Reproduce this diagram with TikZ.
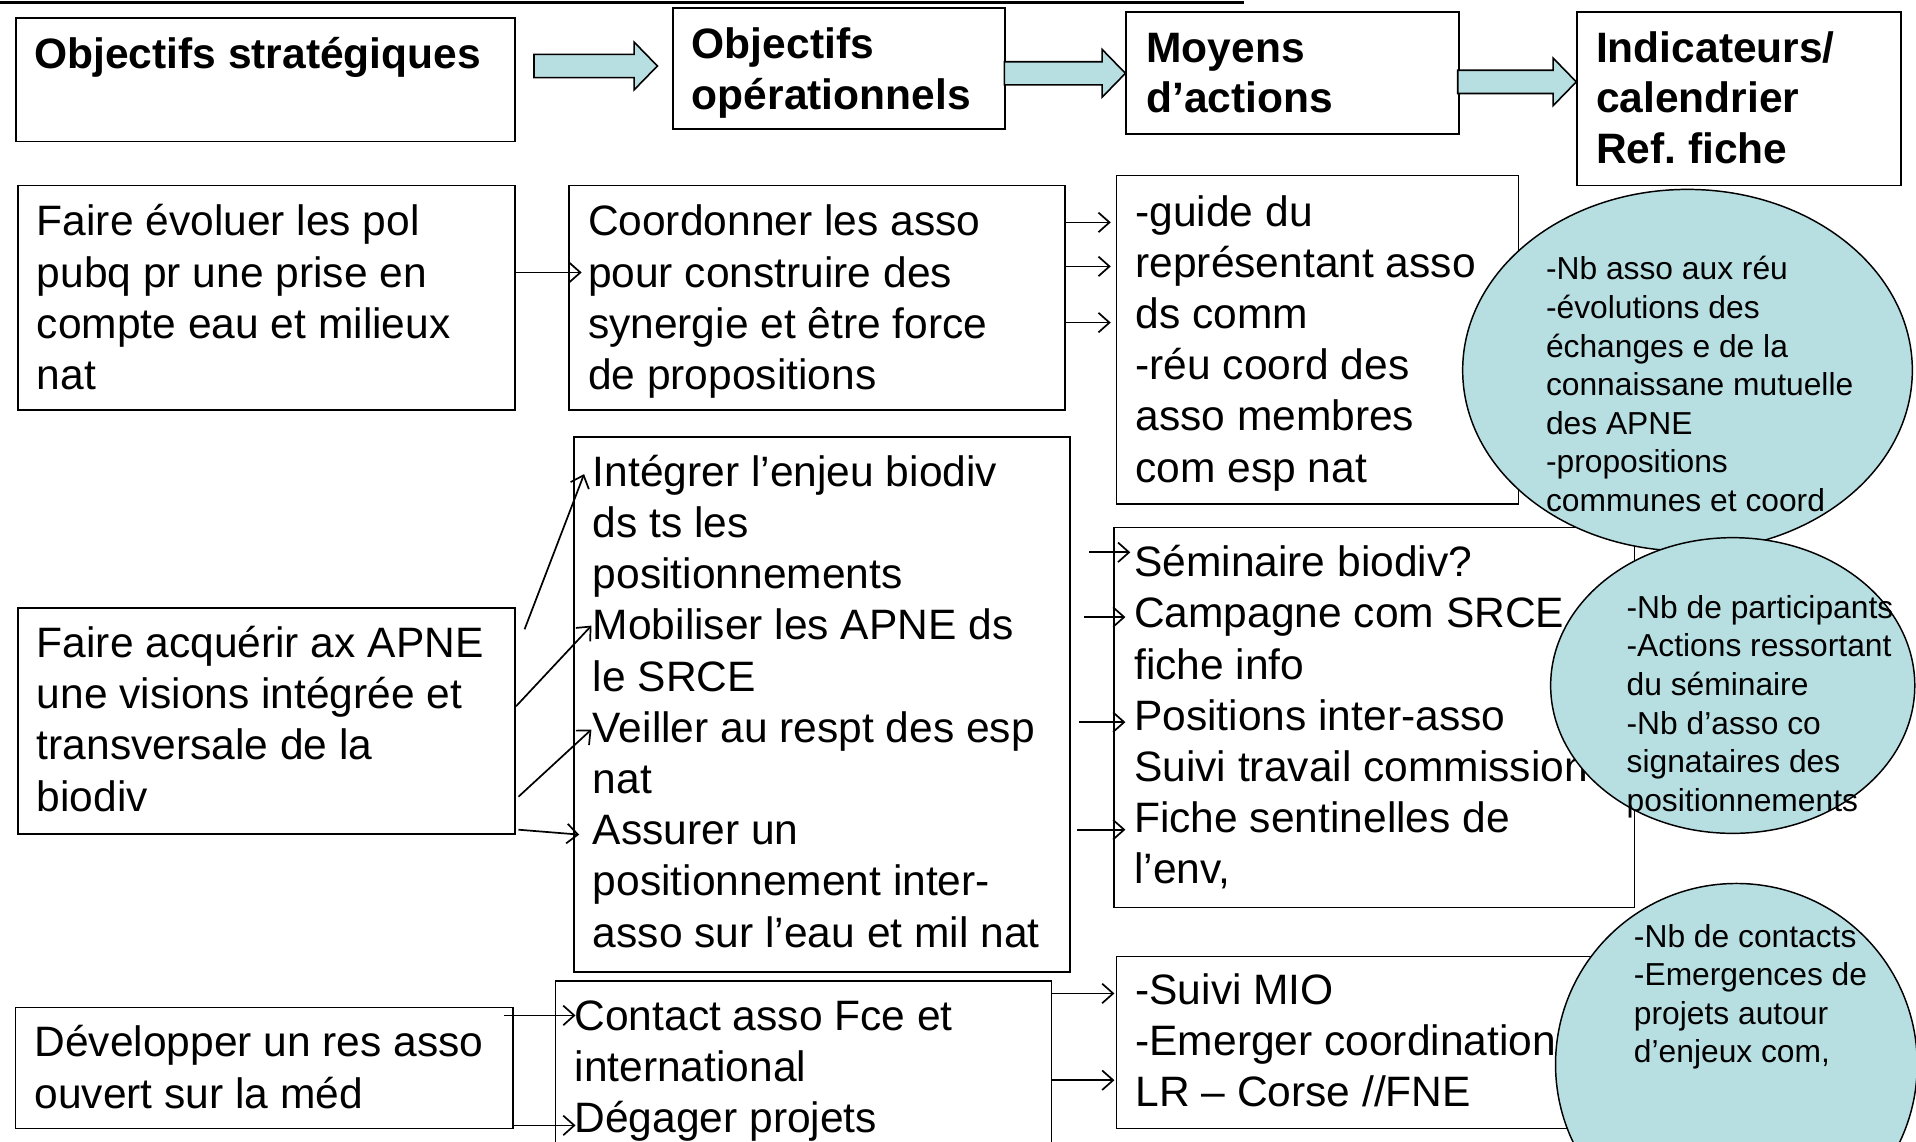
\documentclass[tikz,border=0pt]{standalone}
\usepackage{fontspec}
\setmainfont{Liberation Sans}
\usetikzlibrary{calc,arrows.meta,shapes.geometric}
\definecolor{lblue}{RGB}{183,222,225}
\frenchspacing
\newcommand{\tb}[1]{\begin{tabular}[t]{@{}l@{}}#1\end{tabular}}
\newcommand{\bodyf}{\fontsize{34.8}{41.9}\selectfont}
\newcommand{\headf}{\fontsize{34.8}{41.3}\selectfont\bfseries}
\newcommand{\ellf}{\fontsize{26}{31.6}\selectfont}
\newcommand{\blockarr}[2]{\draw[blk] ($(#1)+(0,-9.5)$) -- ($(#2)+(-19,-9.5)$) -- ($(#2)+(-19,-19.5)$) -- (#2) -- ($(#2)+(-19,19.5)$) -- ($(#2)+(-19,9.5)$) -- ($(#1)+(0,9.5)$) -- cycle;}
\begin{document}
\begin{tikzpicture}[x=1pt,y=-1pt,
  hbox/.style={draw, line width=1.6pt, anchor=north west, inner sep=0pt},
  bbox/.style={draw, line width=1.3pt, anchor=north west, inner sep=0pt},
  ind/.style={ellipse, draw, line width=1.2pt, fill=lblue, inner sep=0pt},
  txt/.style={anchor=base west, inner sep=0pt},
  conn/.style={line width=1.4pt, -{Straight Barb[length=9pt,width=16pt]}},
  blk/.style={draw, line width=1.3pt, fill=lblue, line join=miter}]
\fill[white] (0,0) rectangle (1568,934);
\clip (0,0) rectangle (1568,934);
\draw[line width=3pt] (0,2) -- (1018,2);

% header boxes
\node[hbox, minimum width=409pt, minimum height=101pt] (H1) at (12,14) {};
\node[hbox, minimum width=272pt, minimum height=99pt] (H2) at (550,6) {};
\node[hbox, minimum width=272pt, minimum height=100pt] (H3) at (921,9) {};
\node[hbox, minimum width=265pt, minimum height=142pt] (H4) at (1290,9) {};
\node[txt, font=\headf] (tH1) at (28,56) {\tb{Objectifs stratégiques}};
\node[txt, font=\headf] (tH2) at (566,48) {\tb{Objectifs\\opérationnels}};
\node[txt, font=\headf] (tH3) at (938,51) {\tb{Moyens\\d’actions}};
\node[txt, font=\headf] (tH4) at (1306,51) {\tb{Indicateurs/\\calendrier\\Ref. fiche}};

\coordinate (a1s) at (437,54); \coordinate (a1e) at (538,54);
\coordinate (a2s) at (822,60); \coordinate (a2e) at (921,60);
\coordinate (a3s) at (1193,67); \coordinate (a3e) at (1290,67);
\blockarr{a1s}{a1e}
\blockarr{a2s}{a2e}
\blockarr{a3s}{a3e}

% body boxes
\node[bbox, minimum width=407pt, minimum height=184pt] (B1) at (14,151) {};
\node[bbox, minimum width=406pt, minimum height=184pt] (B2) at (465,151) {};
\node[bbox, minimum width=329pt, minimum height=269pt] (B3) at (913,143) {};
\node[bbox, minimum width=406pt, minimum height=438pt] (B4) at (469,357) {};
\node[bbox, minimum width=426pt, minimum height=311pt] (B5) at (911,431) {};
\node[bbox, minimum width=407pt, minimum height=185pt] (B6) at (14,497) {};
\node[bbox, minimum width=405pt, minimum height=141pt] (B7) at (913,782) {};
\node[bbox, minimum width=407pt, minimum height=99pt] (B8) at (12,824) {};
\node[bbox, minimum width=406pt, minimum height=160pt] (B9) at (454,802) {};

\node[txt, font=\bodyf] (tB1) at (30,193) {\tb{Faire évoluer les pol\\pubq pr une prise en\\compte eau et milieux\\nat}};
\node[txt, font=\bodyf] (tB2) at (481,193) {\tb{Coordonner les asso\\pour construire des\\synergie et être force\\de propositions}};
\node[txt, font=\bodyf] (tB3) at (929,185) {\tb{-guide du\\représentant asso\\ds comm\\-réu coord des\\asso membres\\com esp nat}};
\node[txt, font=\bodyf] (tB4) at (485,398) {\tb{Intégrer l’enjeu biodiv\\ds ts les\\positionnements\\Mobiliser les APNE ds\\le SRCE\\Veiller au respt des esp\\nat\\Assurer un\\positionnement inter-\\asso sur l’eau et mil nat}};
\node[txt, font=\bodyf] (tB5) at (928,472) {\tb{Séminaire biodiv?\\Campagne com SRCE\\fiche info\\Positions inter-asso\\Suivi travail commission\\Fiche sentinelles de\\l’env,}};
\node[txt, font=\bodyf] (tB6) at (30,538) {\tb{Faire acquérir ax APNE\\une visions intégrée et\\transversale de la\\biodiv}};
\node[txt, font=\bodyf] (tB7) at (929,822) {\tb{-Suivi MIO\\-Emerger coordination\\LR – Corse //FNE}};
\node[txt, font=\bodyf] (tB8) at (28,865) {\tb{Développer un res asso\\ouvert sur la méd}};
\node[txt, font=\bodyf] (tB9) at (470,843) {\tb{Contact asso Fce et\\international\\Dégager projets}};

% connectors
\draw[conn] ($(B1.north east)+(0,72)$) -- ($(B2.north west)+(11,72)$);
\draw[conn] ($(B2.north east)+(0,31)$) -- ($(B3.north west)+(-4,39)$);
\draw[conn] ($(B2.north east)+(0,67)$) -- ($(B3.north west)+(-4,75)$);
\draw[conn] ($(B2.north east)+(0,113)$) -- ($(B3.north west)+(-4,121)$);
\draw[conn] ($(B6.north east)+(7,18)$) -- ($(B4.north west)+(9,31)$);
\draw[conn] ($(B6.north east)+(0,81)$) -- ($(B4.north west)+(15,155)$);
\draw[conn] ($(B6.north east)+(2,155)$) -- ($(B4.north west)+(15,240)$);
\draw[conn] ($(B6.north east)+(2,182)$) -- ($(B4.north west)+(5,326)$);
\draw[conn] ($(B4.north east)+(15,95)$) -- ($(B5.north west)+(14,21)$);
\draw[conn] ($(B4.north east)+(11,148)$) -- ($(B5.north west)+(10,74)$);
\draw[conn] ($(B4.north east)+(7,234)$) -- ($(B5.north west)+(10,160)$);
\draw[conn] ($(B4.north east)+(5,322)$) -- ($(B5.north west)+(10,248)$);
\draw[conn] ($(B8.north east)+(-8,7)$) -- ($(B9.north west)+(17,29)$);
\draw[conn] ($(B8.north east)+(-1,97)$) -- ($(B9.north west)+(17,119)$);
\draw[conn] ($(B9.north east)+(0,11)$) -- ($(B7.north west)+(-1,31)$);
\draw[conn] ($(B9.north east)+(0,82)$) -- ($(B7.north west)+(-1,102)$);

% indicator ellipses
\node[ind, minimum width=368pt, minimum height=296pt] (E1) at (1381,303) {};
\node[txt, font=\ellf] (tE1) at (1265,229) {\tb{-Nb asso aux réu\\-évolutions des\\échanges e de la\\connaissane mutuelle\\des APNE\\-propositions\\communes et coord}};
\node[ind, minimum width=298pt, minimum height=242pt] (E2) at (1418,561) {};
\node[txt, font=\ellf] (tE2) at (1331,506) {\tb{-Nb de participants\\-Actions ressortant\\du séminaire\\-Nb d’asso co\\signataires des\\positionnements}};
\node[ind, minimum width=296pt, minimum height=296pt] (E3) at (1421,871) {};
\node[txt, font=\ellf] (tE3) at (1337,775) {\tb{-Nb de contacts\\-Emergences de\\projets autour\\d’enjeux com,}};
\end{tikzpicture}
\end{document}
